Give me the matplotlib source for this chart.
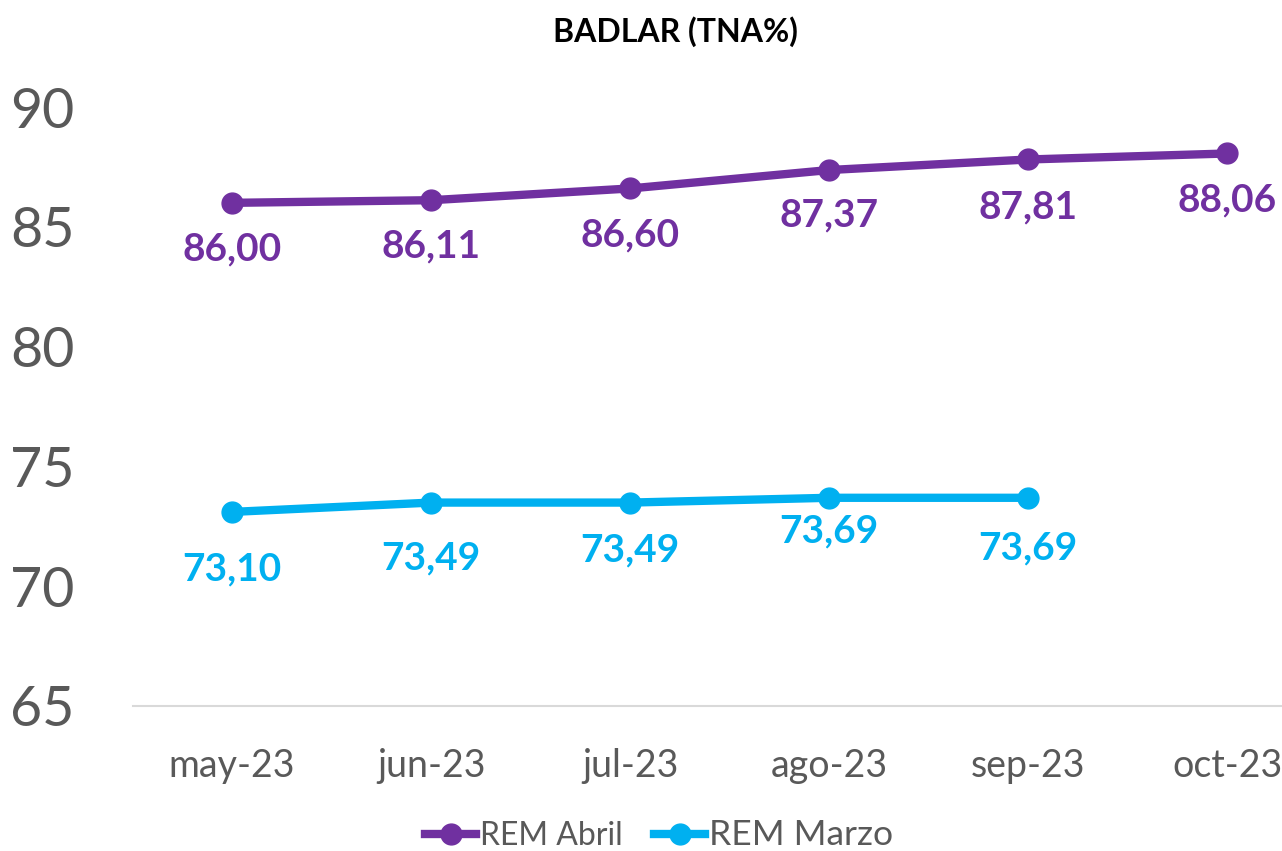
import matplotlib.pyplot as plt
from matplotlib.lines import Line2D

plt.rcParams['font.family'] = ['Lato', 'DejaVu Sans']

categories = ['may-23', 'jun-23', 'jul-23', 'ago-23', 'sep-23', 'oct-23']
rem_abril = [86.00, 86.11, 86.60, 87.37, 87.81, 88.06]
rem_marzo = [73.10, 73.49, 73.49, 73.69, 73.69]
y_ticks = [65, 70, 75, 80, 85, 90]
title = 'BADLAR (TNA%)'

PURPLE = '#7030A0'
CYAN = '#00B0F0'
GRAY = '#595959'

# label offsets below markers, in pixels (style)
off_abril = [46, 46, 47, 45, 48, 47]
off_marzo = [57, 55, 47, 33, 50]

W, H = 1282, 851
fig = plt.figure(figsize=(W / 100, H / 100), dpi=100)
ax = fig.add_axes([132.5 / W, 145 / H, (1327 - 132.5) / W, 599 / H])

x_a = list(range(len(rem_abril)))
x_m = list(range(len(rem_marzo)))
ax.plot(x_a, rem_abril, color=PURPLE, lw=6, marker='o', ms=15, solid_capstyle='round', zorder=3)
ax.plot(x_m, rem_marzo, color=CYAN, lw=6, marker='o', ms=15, solid_capstyle='round', zorder=3)

def fmt(v):
    return f'{v:.2f}'.replace('.', ',')

for xi, v, o in zip(x_a, rem_abril, off_abril):
    ax.annotate(fmt(v), (xi, v), xytext=(0, -o * 0.72), textcoords='offset points',
                ha='center', va='center', fontsize=28, fontweight='bold', color=PURPLE)
for xi, v, o in zip(x_m, rem_marzo, off_marzo):
    ax.annotate(fmt(v), (xi, v), xytext=(0, -o * 0.72), textcoords='offset points',
                ha='center', va='center', fontsize=28, fontweight='bold', color=CYAN)

ax.set_xlim(-0.5, len(categories) - 0.5)
ax.set_ylim(65, 90)
ax.set_yticks(y_ticks)
ax.set_yticklabels([str(t) for t in y_ticks])
ax.set_xticks(range(len(categories)))
ax.set_xticklabels(categories)
ax.tick_params(axis='y', labelsize=40, labelcolor=GRAY, length=0, pad=88)
for lab in ax.get_yticklabels():
    lab.set_horizontalalignment('left')
ax.tick_params(axis='x', labelsize=27, labelcolor=GRAY, length=0, pad=30)

for s in ['top', 'right', 'left']:
    ax.spines[s].set_visible(False)
ax.spines['bottom'].set_color('#D9D9D9')
ax.spines['bottom'].set_linewidth(1.5)

fig.text(675 / W, 1 - 32 / H, title, ha='center', va='center', fontsize=23, fontweight='bold', color='black')

handles = [Line2D([], [], color=PURPLE, lw=6, marker='o', ms=15),
           Line2D([], [], color=CYAN, lw=6, marker='o', ms=15)]
leg = fig.legend(handles, ['REM Abril', 'REM Marzo'], loc='center', ncol=2,
                 bbox_to_anchor=(659 / W, 16 / H), frameon=False, fontsize=23,
                 handlelength=1.6, handletextpad=0.1, columnspacing=1.0, labelcolor=GRAY)
leg.get_texts()[1].set_fontsize(25.5)

fig.savefig('out.png', dpi=100)
